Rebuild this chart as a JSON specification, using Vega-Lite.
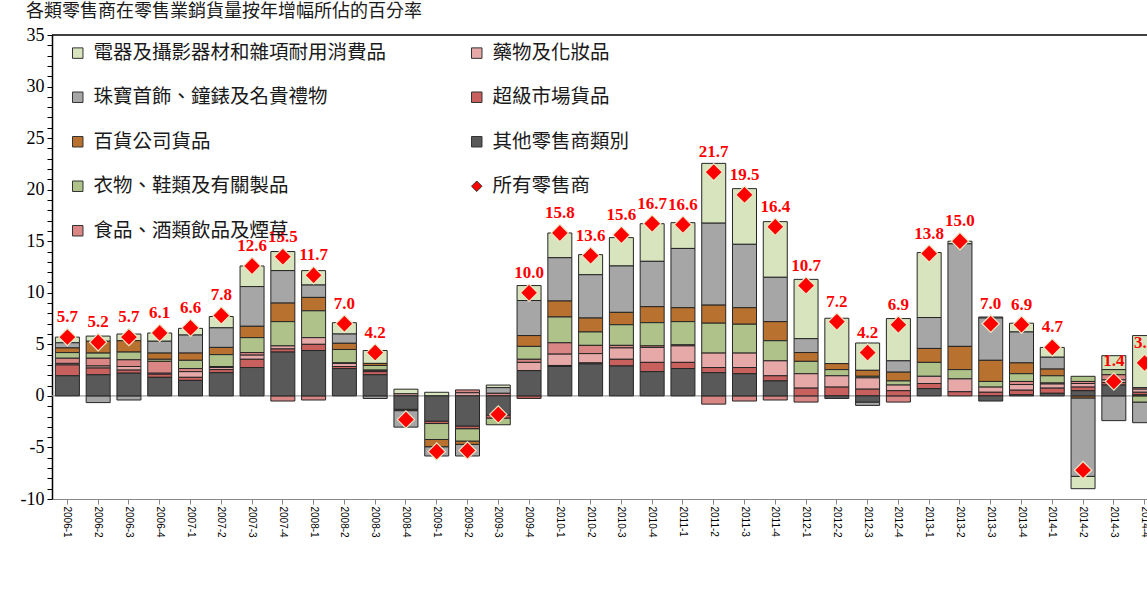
{
"$schema": "https://vega.github.io/schema/vega-lite/v6.json",
"width": 1108,
"height": 464,
"autosize": {"type": "none"},
"padding": {"left": 52, "top": 35, "right": -13, "bottom": 100},
"background": "#ffffff",
"config": {
  "view": {"stroke": null}
},
"title": {"text": "各類零售商在零售業銷貨量按年增幅所佔的百分率", "anchor": "start", "dx": 6, "offset": 5, "fontSize": 18, "font": "Noto Sans CJK TC", "fontWeight": "normal", "color": "#1a1a1a"},
"datasets": {
  "quarters": [
    {"p":"2006-1","e":0.55,"j":0.5,"d":0.45,"c":0.55,"f":0.5,"m":0.15,"s":1.05,"o":1.95,"t":5.7},
    {"p":"2006-2","e":0.5,"j":-0.65,"d":1.15,"c":0.5,"f":0.75,"m":0.2,"s":0.65,"o":2.05,"t":5.2},
    {"p":"2006-3","e":0.65,"j":-0.4,"d":1.1,"c":0.75,"f":0.65,"m":0.35,"s":0.3,"o":2.2,"t":5.7},
    {"p":"2006-4","e":0.8,"j":1.15,"d":0.6,"c":0.2,"f":1.15,"m":0.1,"s":0.3,"o":1.8,"t":6.1},
    {"p":"2007-1","e":0.65,"j":1.75,"d":0.7,"c":0.8,"f":0.3,"m":0.55,"s":0.3,"o":1.5,"t":6.6},
    {"p":"2007-2","e":1.1,"j":1.9,"d":0.7,"c":1.15,"f":0.1,"m":0.2,"s":0.3,"o":2.25,"t":7.8},
    {"p":"2007-3","e":2.0,"j":3.85,"d":1.1,"c":1.45,"f":0.25,"m":0.4,"s":0.8,"o":2.75,"t":12.6},
    {"p":"2007-4","e":1.85,"j":3.15,"d":1.8,"c":2.35,"f":-0.5,"m":0.3,"s":0.3,"o":4.25,"t":13.5},
    {"p":"2008-1","e":1.4,"j":1.2,"d":1.3,"c":2.6,"f":-0.4,"m":0.65,"s":0.6,"o":4.4,"t":11.7},
    {"p":"2008-2","e":1.1,"j":0.9,"d":0.6,"c":1.3,"f":0.05,"m":0.3,"s":0.2,"o":2.65,"t":7.0},
    {"p":"2008-3","e":1.25,"j":-0.25,"d":0.2,"c":0.45,"f":0.05,"m":0.1,"s":0.3,"o":2.05,"t":4.2},
    {"p":"2008-4","e":0.45,"j":-1.6,"d":0,"c":0,"f":0,"m":0.2,"s":-0.13,"o":-1.3,"t":-2.3},
    {"p":"2009-1","e":0.35,"j":-0.9,"d":-0.7,"c":-1.55,"f":0,"m":0,"s":-0.23,"o":-2.45,"t":-5.4},
    {"p":"2009-2","e":0,"j":-1.13,"d":-0.32,"c":-1.2,"f":0.28,"m":0.3,"s":-0.26,"o":-2.92,"t":-5.3},
    {"p":"2009-3","e":0.25,"j":0.55,"d":0,"c":-0.65,"f":0.25,"m":0,"s":-0.3,"o":-1.85,"t":-1.8},
    {"p":"2009-4","e":1.45,"j":3.4,"d":1.05,"c":1.25,"f":0.3,"m":0.8,"s":-0.25,"o":2.45,"t":10.0},
    {"p":"2010-1","e":2.4,"j":4.2,"d":1.55,"c":2.5,"f":1.1,"m":1.1,"s":0.1,"o":2.85,"t":15.8},
    {"p":"2010-2","e":1.95,"j":4.2,"d":1.35,"c":1.3,"f":0.8,"m":0.9,"s":0.1,"o":3.1,"t":13.6},
    {"p":"2010-3","e":2.75,"j":4.5,"d":1.2,"c":2.0,"f":0.25,"m":1.1,"s":0.65,"o":2.9,"t":15.6},
    {"p":"2010-4","e":3.65,"j":4.4,"d":1.55,"c":2.25,"f":0.15,"m":1.45,"s":0.9,"o":2.35,"t":16.7},
    {"p":"2011-1","e":2.5,"j":5.75,"d":1.35,"c":2.25,"f":0.1,"m":1.6,"s":0.6,"o":2.65,"t":16.6},
    {"p":"2011-2","e":5.8,"j":7.95,"d":1.75,"c":2.9,"f":-0.8,"m":1.4,"s":0.5,"o":2.25,"t":21.7},
    {"p":"2011-3","e":5.4,"j":6.15,"d":1.6,"c":2.8,"f":-0.5,"m":1.4,"s":0.6,"o":2.15,"t":19.5},
    {"p":"2011-4","e":5.4,"j":4.3,"d":1.85,"c":1.95,"f":-0.4,"m":1.45,"s":0.5,"o":1.45,"t":16.4},
    {"p":"2012-1","e":5.75,"j":1.35,"d":0.85,"c":1.2,"f":-0.6,"m":1.4,"s":0.75,"o":0,"t":10.7},
    {"p":"2012-2","e":4.4,"j":0,"d":0.58,"c":0.6,"f":0,"m":1.1,"s":0.85,"o":-0.25,"t":7.2},
    {"p":"2012-3","e":2.65,"j":-0.32,"d":0.58,"c":0.15,"f":0,"m":1.1,"s":0.65,"o":-0.6,"t":4.2},
    {"p":"2012-4","e":4.1,"j":1.1,"d":0.85,"c":0.4,"f":-0.6,"m":0.55,"s":0.5,"o":0,"t":6.9},
    {"p":"2013-1","e":6.3,"j":3.0,"d":1.35,"c":1.35,"f":0,"m":0.7,"s":0.5,"o":0.7,"t":13.8},
    {"p":"2013-2","e":0.25,"j":9.95,"d":2.25,"c":0.9,"f":0,"m":1.25,"s":0.4,"o":0,"t":15.0},
    {"p":"2013-3","e":0.1,"j":4.1,"d":2.05,"c":0.55,"f":0,"m":0.5,"s":0.35,"o":-0.5,"t":7.0},
    {"p":"2013-4","e":0.85,"j":3.0,"d":1.05,"c":0.75,"f":0.3,"m":0.55,"s":0.45,"o":0.1,"t":6.9},
    {"p":"2014-1","e":0.95,"j":1.15,"d":0.65,"c":0.7,"f":0.1,"m":0.4,"s":0.5,"o":0.25,"t":4.7},
    {"p":"2014-2","e":-1.2,"j":-7.6,"d":-0.2,"c":0.5,"f":0.2,"m":0.35,"s":0.35,"o":0.5,"t":-7.2},
    {"p":"2014-3","e":1.35,"j":-2.4,"d":0,"c":0.5,"f":0.5,"m":0.25,"s":0.25,"o":1.05,"t":1.4},
    {"p":"2014-4","e":5.05,"j":-2.0,"d":0,"c":-0.6,"f":0.15,"m":0.3,"s":0.25,"o":0.1,"t":3.2}
  ],
  "categories": [
    {"k":"e","cat":"電器及攝影器材和雜項耐用消費品","ord":8},
    {"k":"j","cat":"珠寶首飾、鐘錶及名貴禮物","ord":7},
    {"k":"d","cat":"百貨公司貨品","ord":6},
    {"k":"c","cat":"衣物、鞋類及有關製品","ord":5},
    {"k":"f","cat":"食品、酒類飲品及煙草","ord":4},
    {"k":"m","cat":"藥物及化妝品","ord":3},
    {"k":"s","cat":"超級市場貨品","ord":2},
    {"k":"o","cat":"其他零售商類別","ord":1},
    {"k":"t","cat":"所有零售商","ord":9}
  ]
},
"data": {"name": "quarters"},
"transform": [
  {"fold": ["e","j","d","c","f","m","s","o","t"], "as": ["k","v"]},
  {"lookup": "k", "from": {"data": {"name": "categories"}, "key": "k", "fields": ["cat","ord"]}}
],
"layer": [
  {
    "transform": [{"filter": "datum.k === 't' && datum.p === '2006-1'"}],
    "mark": {"type": "rule", "color": "#a0a0a0", "strokeWidth": 1.2},
    "encoding": {"y": {"datum": 0}}
  },
  {
    "transform": [{"filter": "datum.k === 't' && datum.p === '2006-1'"}],
    "mark": {"type": "rule", "color": "#000000", "strokeWidth": 1.5},
    "encoding": {"y": {"datum": 35}}
  },
  {
    "transform": [{"filter": "datum.k !== 't' && datum.v !== 0"}],
    "mark": {"type": "bar", "stroke": "#262626", "strokeWidth": 1},
    "encoding": {
      "x": {"field": "p", "type": "ordinal",
        "scale": {"paddingInner": 0.22, "paddingOuter": 0.11},
        "axis": {"title": null, "labelAngle": 90}
      },
      "y": {"field": "v", "type": "quantitative", "stack": "zero",
        "scale": {"domain": [-10, 35], "nice": false, "zero": false},
        "axis": {
          "title": null,
          "values": [-10,-9,-8,-7,-6,-5,-4,-3,-2,-1,0,1,2,3,4,5,6,7,8,9,10,11,12,13,14,15,16,17,18,19,20,21,22,23,24,25,26,27,28,29,30,31,32,33,34,35],
          "tickCount": 200,
          "labelExpr": "datum.value % 5 === 0 ? '' + datum.value : ''",
          "labelFont": "Liberation Serif", "labelFontSize": 18, "labelColor": "#000000",
          "labelOverlap": false, "labelFlush": false, "labelPadding": 3,
          "tickSize": 5, "tickColor": "#000000", "domainColor": "#000000", "domainWidth": 1.5,
          "grid": false
        }
      },
      "fill": {"field": "k", "type": "nominal",
        "scale": {"domain": ["o","s","m","f","c","d","j","e"],
                  "range": ["#595959","#C8605E","#E6A9A8","#D98684","#AFC28A","#B9712F","#A6A6A6","#D7E4BD"]},
        "legend": null},
      "order": {"field": "ord", "type": "quantitative"}
    }
  },
  {
    "transform": [{"filter": "datum.k === 't'"}],
    "mark": {"type": "point", "filled": true, "size": 300, "opacity": 1, "stroke": "#EEE7C6", "strokeWidth": 1.2},
    "encoding": {
      "x": {"field": "p", "type": "ordinal"},
      "y": {"field": "v", "type": "quantitative"},
      "color": {"field": "cat", "type": "nominal",
        "scale": {"domain": ["電器及攝影器材和雜項耐用消費品","珠寶首飾、鐘錶及名貴禮物","百貨公司貨品","衣物、鞋類及有關製品","食品、酒類飲品及煙草","藥物及化妝品","超級市場貨品","其他零售商類別","所有零售商"],
                  "range": ["#D7E4BD","#A6A6A6","#B9712F","#AFC28A","#D98684","#E6A9A8","#C8605E","#595959","#FF0000"]},
        "legend": {"title": null, "orient": "none", "legendX": 16, "legendY": 8, "columns": 2, "columnPadding": 80, "rowPadding": 23.5,
                   "labelFont": "Noto Sans CJK TC", "labelFontSize": 19.5, "labelColor": "#1a1a1a", "labelLimit": 600,
                   "symbolSize": 110, "symbolStrokeColor": "#333333", "symbolStrokeWidth": 1, "labelOffset": 6, "padding": 0}},
      "shape": {"field": "cat", "type": "nominal",
        "scale": {"domain": ["電器及攝影器材和雜項耐用消費品","珠寶首飾、鐘錶及名貴禮物","百貨公司貨品","衣物、鞋類及有關製品","食品、酒類飲品及煙草","藥物及化妝品","超級市場貨品","其他零售商類別","所有零售商"],
                  "range": ["square","square","square","square","square","square","square","square","diamond"]},
        "legend": {"title": null, "orient": "none", "legendX": 16, "legendY": 8, "columns": 2, "columnPadding": 80, "rowPadding": 23.5,
                   "labelFont": "Noto Sans CJK TC", "labelFontSize": 19.5, "labelColor": "#1a1a1a", "labelLimit": 600,
                   "symbolSize": 110, "symbolStrokeColor": "#333333", "symbolStrokeWidth": 1, "labelOffset": 6, "padding": 0}}
    }
  },
  {
    "transform": [{"filter": "datum.k === 't' && datum.v >= 0"}],
    "mark": {"type": "text", "dy": -20, "fontSize": 17, "fontWeight": "bold", "color": "#FF0000", "font": "Liberation Serif"},
    "encoding": {
      "x": {"field": "p", "type": "ordinal"},
      "y": {"field": "v", "type": "quantitative", "stack": null},
      "text": {"field": "v", "type": "quantitative", "format": ".1f"}
    }
  }
]
}
